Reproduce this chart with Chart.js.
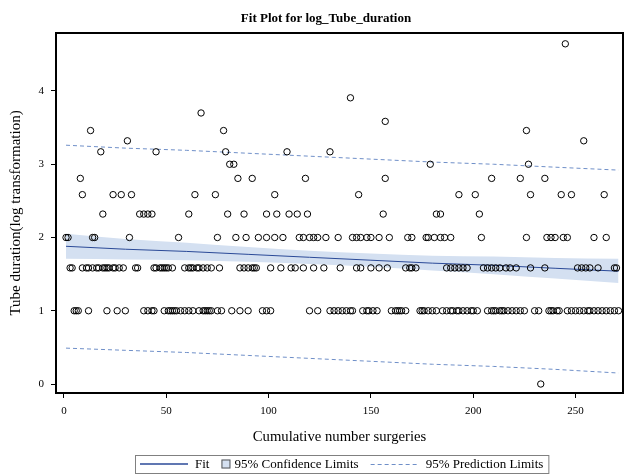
<!DOCTYPE html>
<html><head><meta charset="utf-8">
<script src="https://cdn.jsdelivr.net/npm/chart.js@4.4.1/dist/chart.umd.min.js"></script>
<style>html,body{margin:0;padding:0;background:#fff;}#wrap{width:627px;height:474px;}</style>
</head><body><div id="wrap"><canvas id="c" width="627" height="474"></canvas></div>
<script>
// ---- data ----
const chartTitle = "Fit Plot for log_Tube_duration";
const xTitle = "Cumulative number surgeries";
const yTitle = "Tube duration(log transformation)";
const legendLabels = ["Fit", "95% Confidence Limits", "95% Prediction Limits"];
const xTicks = [0, 50, 100, 150, 200, 250];
const yTicks = [0, 1, 2, 3, 4];

// observed log durations, grouped by value level: x positions of points at each level
const yLevels = [0, 1, 1.585, 2, 2.32, 2.585, 2.807, 3, 3.17, 3.32, 3.46, 3.585, 3.7, 3.907, 4.644];
const xAt0 = [233];
const xAt1 = [5,6,7,12,21,26,30,39,41,43,44,49,51,52,53,54,55,57,59,61,63,66,68,69,70,71,72,75,77,82,86,90,97,99,101,120,124,130,132,134,136,138,140,141,146,148,149,151,153,160,162,163,164,165,167,174,175,176,178,180,182,185,187,189,190,192,193,195,197,199,200,202,207,209,210,211,213,214,215,217,219,221,223,225,230,232,237,238,239,241,242,246,248,250,252,254,256,257,259,261,263,265,267,269,271];
const xAt158 = [3,4,9,11,12,14,16,17,19,20,21,22,24,25,27,29,35,36,44,45,47,48,49,50,51,53,59,61,62,63,65,66,68,70,72,76,86,88,90,92,93,94,101,106,111,113,117,122,127,135,143,145,150,154,158,167,169,170,172,187,189,191,193,195,197,205,207,209,211,213,216,218,221,228,235,251,253,255,257,261,269,270];
const xAt2 = [1,2,14,15,32,56,75,84,89,95,99,103,107,115,117,120,122,124,128,134,141,143,145,148,150,154,159,168,170,177,178,181,184,186,189,204,226,236,238,240,244,246,259,265];
const xAt232 = [19,37,39,41,43,61,80,88,99,104,110,114,119,156,182,184,203];
const xAt258 = [9,24,28,33,64,74,103,144,193,201,228,243,248,264];
const xAt281 = [8,85,92,118,157,209,223,235];
const xAt3 = [81,83,179,227];
const xAt317 = [18,45,79,109,130];
const xAt332 = [31,254];
const xAt346 = [13,78,226];
const xAt358 = [157];
const xAt370 = [67];
const xAt391 = [140];
const xAt464 = [245];
const xByLevel = [xAt0,xAt1,xAt158,xAt2,xAt232,xAt258,xAt281,xAt3,xAt317,xAt332,xAt346,xAt358,xAt370,xAt391,xAt464];

// fit, confidence and prediction limits read at a few x positions
const bandX   = [1, 30, 60, 90, 120, 150, 180, 210, 240, 271];
const fitY    = [1.88, 1.84, 1.81, 1.77, 1.73, 1.69, 1.65, 1.62, 1.58, 1.54];
const clUpper = [2.05, 1.98, 1.93, 1.87, 1.82, 1.78, 1.75, 1.74, 1.72, 1.71];
const clLower = [1.71, 1.70, 1.69, 1.67, 1.64, 1.60, 1.55, 1.50, 1.44, 1.38];
const plUpper = [3.26, 3.22, 3.19, 3.15, 3.11, 3.07, 3.03, 3.00, 2.96, 2.92];
const plLower = [0.49, 0.46, 0.43, 0.39, 0.35, 0.31, 0.27, 0.24, 0.20, 0.15];

// ---- build ----
const pts = [];
xByLevel.forEach((xs, i) => xs.forEach(x => pts.push({x: x, y: yLevels[i]})));
const toXY = ys => bandX.map((x, i) => ({x: x, y: ys[i]}));

const FIT = '#2b4a98', PRED = '#6f8fc8', BAND = '#d4e0f1';
const FONT = "'Liberation Serif','Times New Roman',serif";
Chart.defaults.font.family = FONT;
Chart.defaults.color = '#000';

const framePlugin = {
  id: 'frame',
  afterDatasetsDraw(chart) {
    const a = chart.chartArea, ctx = chart.ctx;
    ctx.save();
    ctx.strokeStyle = '#000'; ctx.lineWidth = 2;
    ctx.strokeRect(a.left - 1, a.top - 1, a.right - a.left + 2, a.bottom - a.top + 2);
    ctx.restore();
  }
};

const titlePlugin = {
  id: 'plotTitle',
  afterDraw(chart) {
    const ctx = chart.ctx;
    ctx.save();
    ctx.font = "bold 13px " + FONT;
    ctx.fillStyle = '#000'; ctx.textAlign = 'center'; ctx.textBaseline = 'middle';
    ctx.fillText(chartTitle, 326, 19);
    ctx.restore();
  }
};

const legendPlugin = {
  id: 'fitLegend',
  afterDraw(chart) {
    const ctx = chart.ctx, a = chart.chartArea;
    ctx.save();
    ctx.font = "13px " + FONT;
    const w = legendLabels.map(t => ctx.measureText(t).width);
    const lineW = 48, gap = 7, sq = 9;
    const total = 5 + lineW + gap + w[0] + 12 + sq + 4 + w[1] + 12 + lineW + gap + w[2] + 5;
    let x = Math.round((a.left + a.right) / 2 + 2 - total / 2);
    const yTop = 455, h = 18, yc = 464;
    ctx.fillStyle = '#fff';
    ctx.fillRect(x, yTop, total, h);
    ctx.strokeStyle = '#808080'; ctx.lineWidth = 1;
    ctx.strokeRect(x + 0.5, yTop + 0.5, total, h);
    ctx.textBaseline = 'middle'; ctx.fillStyle = '#000';
    x += 5;
    ctx.strokeStyle = FIT; ctx.lineWidth = 1.3;
    ctx.beginPath(); ctx.moveTo(x, yc); ctx.lineTo(x + lineW, yc); ctx.stroke();
    x += lineW + gap;
    ctx.fillText(legendLabels[0], x, yc + 1); x += w[0] + 12;
    ctx.fillStyle = BAND; ctx.fillRect(x, yc - sq / 2, sq, sq);
    ctx.strokeStyle = '#555'; ctx.lineWidth = 1;
    ctx.strokeRect(x + 0.5, yc - sq / 2 + 0.5, sq - 1, sq - 1);
    x += sq + 4;
    ctx.fillStyle = '#000'; ctx.fillText(legendLabels[1], x, yc + 1); x += w[1] + 12;
    ctx.strokeStyle = PRED; ctx.lineWidth = 1; ctx.setLineDash([4, 3]);
    ctx.beginPath(); ctx.moveTo(x, yc + 0.5); ctx.lineTo(x + lineW, yc + 0.5); ctx.stroke();
    ctx.setLineDash([]);
    x += lineW + gap;
    ctx.fillText(legendLabels[2], x, yc + 1);
    ctx.restore();
  }
};

new Chart(document.getElementById('c'), {
  type: 'scatter',
  data: {
    datasets: [
      {label: 'obs', data: pts, pointStyle: 'circle', pointRadius: 3.2, borderWidth: 1,
       borderColor: '#000', backgroundColor: 'rgba(0,0,0,0)', showLine: false},
      {label: legendLabels[0], data: toXY(fitY), showLine: true, borderColor: FIT, borderWidth: 1,
       pointRadius: 0, fill: false},
      {label: 'UPL', data: toXY(plUpper), showLine: true, borderColor: PRED, borderWidth: 1,
       borderDash: [4, 3], pointRadius: 0, fill: false},
      {label: 'LPL', data: toXY(plLower), showLine: true, borderColor: PRED, borderWidth: 1,
       borderDash: [4, 3], pointRadius: 0, fill: false},
      {label: 'UCL', data: toXY(clUpper), showLine: true, borderWidth: 0, borderColor: 'rgba(0,0,0,0)',
       backgroundColor: BAND, pointRadius: 0, fill: '+1', cubicInterpolationMode: 'monotone'},
      {label: 'LCL', data: toXY(clLower), showLine: true, borderWidth: 0, borderColor: 'rgba(0,0,0,0)',
       pointRadius: 0, fill: false, cubicInterpolationMode: 'monotone'}
    ]
  },
  options: {
    responsive: false, animation: false,
    layout: {padding: {left: 0, right: 2, top: 34, bottom: 24}},
    plugins: {
      legend: {display: false}, tooltip: {enabled: false}, title: {display: false}
    },
    scales: {
      x: {
        type: 'linear', min: -3.4, max: 272.7,
        afterBuildTicks: s => { s.ticks = xTicks.map(v => ({value: v})); },
        afterFit: s => { s.height = 58; },
        ticks: {color: '#000', font: {size: 11}, padding: 7, maxRotation: 0, autoSkip: false},
        grid: {display: true, drawOnChartArea: false, drawTicks: true, tickLength: 6, color: '#000', lineWidth: 1},
        border: {display: false},
        title: {display: true, text: xTitle, color: '#000', font: {size: 14.7}, padding: {top: 4, bottom: 4}}
      },
      y: {
        type: 'linear', min: -0.109, max: 4.778,
        afterBuildTicks: s => { s.ticks = yTicks.map(v => ({value: v})); },
        afterFit: s => { s.width = 57; },
        ticks: {color: '#000', font: {size: 11}, padding: 7},
        grid: {display: true, drawOnChartArea: false, drawTicks: true, tickLength: 6, color: '#000', lineWidth: 1},
        border: {display: false},
        title: {display: true, text: yTitle, color: '#000', font: {size: 15}, padding: {top: 7, bottom: 4}}
      }
    }
  },
  plugins: [framePlugin, titlePlugin, legendPlugin]
});
</script></body></html>
